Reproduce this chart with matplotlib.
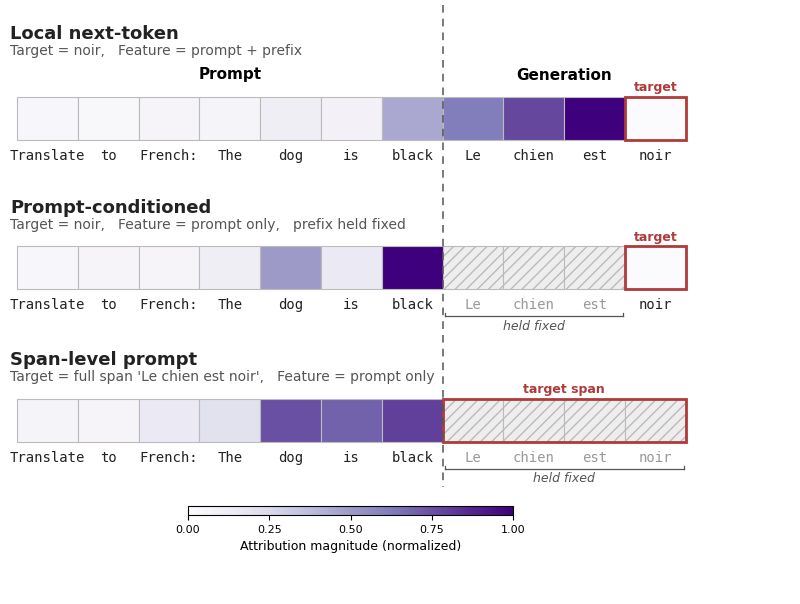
import numpy as np
import matplotlib.pyplot as plt
from matplotlib import cm, colors

tokens = ["Translate", "to", "French:", "The", "dog", "is", "black", "Le", "chien", "est", "noir"]
row1_vals = [0.05, 0.04, 0.06, 0.07, 0.12, 0.09, 0.45, 0.62, 0.78, 1.0]
row2_vals = [0.05, 0.06, 0.06, 0.12, 0.50, 0.15, 1.0]
row3_vals = [0.07, 0.06, 0.15, 0.20, 0.75, 0.70, 0.80]
titles = ["Local next-token", "Prompt-conditioned", "Span-level prompt"]
subtitles = ["Target = noir,   Feature = prompt + prefix",
             "Target = noir,   Feature = prompt only,   prefix held fixed",
             "Target = full span 'Le chien est noir',   Feature = prompt only"]

cmap = plt.get_cmap("Purples")
norm = colors.Normalize(0, 1)
red = "#b03a3a"

fig = plt.figure(figsize=(8, 6.04), dpi=100)
ax = fig.add_axes([0, 0, 1, 1])
ax.set_xlim(0, 800)
ax.set_ylim(604, 0)
ax.axis("off")

x0, w, h = 17, 60.8, 43
tops = [97, 246, 399]
title_y = [34, 208, 360]

for r, (top, vals) in enumerate(zip(tops, [row1_vals, row2_vals, row3_vals])):
    ax.text(10, title_y[r], titles[r], fontsize=13, fontweight="bold", va="center", color="#222222")
    ax.text(10, title_y[r] + 17, subtitles[r], fontsize=10, va="center", color="#555555")
    for i, tok in enumerate(tokens):
        x = x0 + i * w
        held = (r == 1 and 7 <= i <= 9) or (r == 2 and i >= 7)
        if i < len(vals):
            ax.add_patch(plt.Rectangle((x, top), w, h, facecolor=cmap(norm(vals[i])),
                                       edgecolor="#bbbbbb", lw=0.8))
        elif held:
            ax.add_patch(plt.Rectangle((x, top), w, h, facecolor="#eeeeee", edgecolor="#bbbbbb",
                                       hatch="///", lw=0.8))
        else:
            ax.add_patch(plt.Rectangle((x, top), w, h, facecolor="#fbfbfe", edgecolor=red, lw=2))
        ax.text(x + w / 2, top + h + 16, tok, fontsize=10, family="DejaVu Sans Mono",
                ha="center", va="center", color="#999999" if held else "#222222")
    if r < 2:
        ax.text(x0 + 10.5 * w, top - 9, "target", fontsize=9, fontweight="bold", color=red,
                ha="center", va="center")
    else:
        ax.add_patch(plt.Rectangle((x0 + 7 * w, top), 4 * w, h, fill=False, edgecolor=red, lw=2))
        ax.text(x0 + 9 * w, top - 10, "target span", fontsize=9, fontweight="bold", color=red,
                ha="center", va="center")
    if r >= 1:
        xe = x0 + 10 * w if r == 1 else x0 + 11 * w
        yb = top + h + 27
        ax.plot([x0 + 7 * w + 2, xe - 2], [yb, yb], color="#555555", lw=0.9)
        ax.plot([x0 + 7 * w + 2] * 2, [yb - 3, yb], color="#555555", lw=0.9)
        ax.plot([xe - 2] * 2, [yb - 3, yb], color="#555555", lw=0.9)
        ax.text((x0 + 7 * w + xe) / 2, yb + 10, "held fixed", fontsize=9, style="italic",
                color="#555555", ha="center", va="center")

ax.text(x0 + 3.5 * w, 75, "Prompt", fontsize=11, fontweight="bold", ha="center", va="center")
ax.text(x0 + 9 * w, 75, "Generation", fontsize=11, fontweight="bold", ha="center", va="center")
ax.plot([x0 + 7 * w] * 2, [5, 487], color="#555555", lw=1.1, ls=(0, (5, 4)))

cax = fig.add_axes([188 / 800, (604 - 515) / 604, 325 / 800, 9 / 604])
cb = fig.colorbar(cm.ScalarMappable(norm=norm, cmap=cmap), cax=cax, orientation="horizontal",
                  ticks=[0, 0.25, 0.5, 0.75, 1.0])
cb.ax.tick_params(labelsize=8)
cb.ax.set_xticklabels(["0.00", "0.25", "0.50", "0.75", "1.00"])
cb.set_label("Attribution magnitude (normalized)", fontsize=9)

fig.savefig("out.png", dpi=100)
